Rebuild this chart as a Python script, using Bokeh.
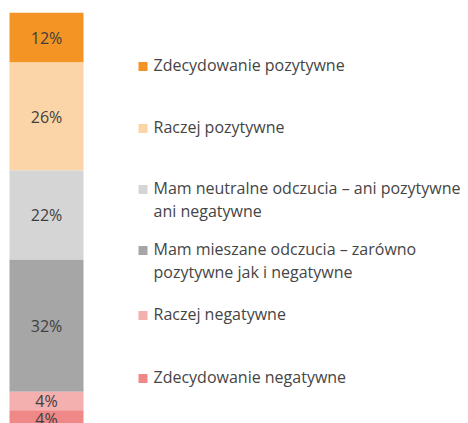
from bokeh.plotting import figure
from bokeh.models import Range1d, ColumnDataSource
from bokeh.core.properties import value
from bokeh.embed import file_html
from bokeh.resources import INLINE

# Data (top to bottom of the stacked bar)
categories = [
    "Zdecydowanie pozytywne",
    "Raczej pozytywne",
    "Mam neutralne odczucia – ani pozytywne\nani negatywne",
    "Mam mieszane odczucia – zarówno\npozytywne jak i negatywne",
    "Raczej negatywne",
    "Zdecydowanie negatywne",
]
values = [12.0, 26.0, 21.5, 31.8, 4.5, 4.2]
labels = ["12%", "26%", "22%", "32%", "4%", "4%"]
colors = ["#F39425", "#FBD5A8", "#D5D5D5", "#A6A6A6", "#F4AFAF", "#F08888"]

# layout helpers
W, H = 468, 423
TOP_PX = 12.3
PX_PER_PCT = 4.15


def px2y(px):
    return (px - TOP_PX) / PX_PER_PCT


p = figure(width=W, height=H, output_backend="svg", toolbar_location=None,
           x_range=Range1d(0, W), y_range=Range1d(px2y(H), px2y(0)),
           min_border=0, outline_line_color=None)
p.axis.visible = False
p.grid.visible = False
p.background_fill_color = "white"
p.border_fill_color = "white"

tops, bottoms, mids = [], [], []
acc = 0.0
for v in values:
    tops.append(acc)
    bottoms.append(acc + v)
    mids.append(acc + v / 2)
    acc += v

src = ColumnDataSource(dict(top=tops, bottom=bottoms, mid=mids, color=colors, label=labels,
                            x=[46] * len(values)))
p.vbar(x="x", width=74, top="top", bottom="bottom", fill_color="color", line_color=None, source=src)
p.text(x="x", y="mid", text="label", source=src, text_align="center", text_baseline="middle",
       text_font=value("Open Sans"), text_font_size="16px", text_color="#404040")

# legend (manually placed)
legend_px = [66, 128, 189, 250, 315, 378]
lsrc = ColumnDataSource(dict(
    x=[142.5] * len(categories),
    y=[px2y(v) for v in legend_px],
    color=colors,
))
p.rect(x="x", y="y", width=9, height=9 / PX_PER_PCT, fill_color="color", line_color=None, source=lsrc)

tx, ty = [], []
for cat, ypx in zip(categories, legend_px):
    for i, line in enumerate(cat.split("\n")):
        tx.append(line)
        ty.append(px2y(ypx - 1.5 + i * 23))
p.text(x=[153] * len(tx), y=ty, text=tx, text_align="left", text_baseline="middle",
       text_font=value("Open Sans"), text_font_size="16px", text_color="#454545")

open("out.html", "w").write(file_html(p, INLINE))
